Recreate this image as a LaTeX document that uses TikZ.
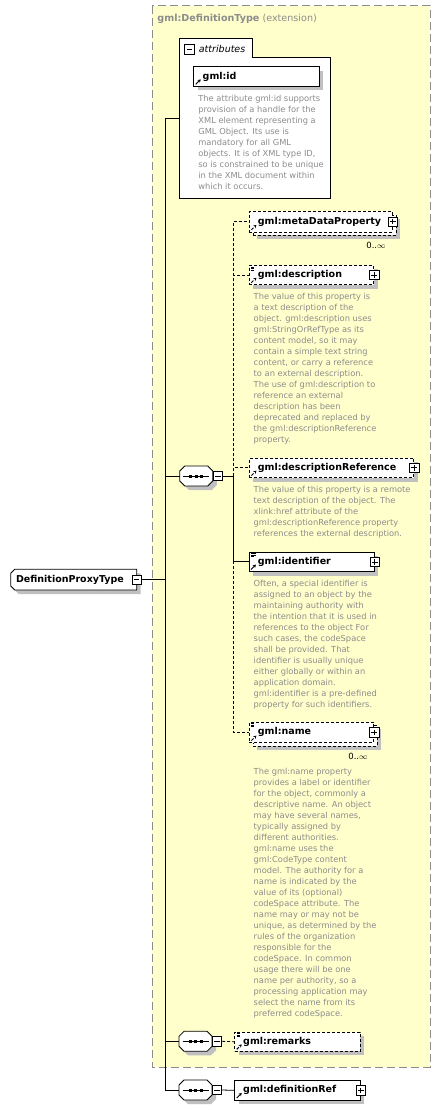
\documentclass[tikz,border=0pt]{standalone}
\usepackage{fontspec}
\setmainfont{DejaVu Sans}
\usetikzlibrary{arrows.meta,shadows}

\definecolor{extfill}{HTML}{FFFFCC}
\definecolor{extline}{HTML}{8C8C8C}
\definecolor{doctext}{HTML}{8C8C8C}
\definecolor{shadowgray}{HTML}{C0C0C0}

\tikzset{
  boxshadow/.style={drop shadow={shadow xshift=4pt, shadow yshift=-4pt, fill=shadowgray, opacity=1}},
  extframe/.style={draw=extline, fill=extfill, line width=1pt, dash pattern=on 8pt off 4pt},
  elem/.style={draw, fill=white, inner sep=0pt, anchor=north west, minimum height=19.5pt},
  opt/.style={dash pattern=on 3pt off 2pt},
  ref/.style={path picture={
      \draw[line width=0.9pt, -{Stealth[length=3pt,width=3.5pt]}] ([shift={(2pt,2pt)}]path picture bounding box.south west) -- ++(5pt,5pt);}},
  refdoc/.style={path picture={
      \draw[line width=0.9pt, -{Stealth[length=3pt,width=3.5pt]}] ([shift={(2pt,2pt)}]path picture bounding box.south west) -- ++(5pt,5pt);
      \draw[line width=0.6pt] ([shift={(2pt,-1.5pt)}]path picture bounding box.north west) -- ++(5pt,0pt)
        ([shift={(2pt,-3pt)}]path picture bounding box.north west) -- ++(5pt,0pt)
        ([shift={(2pt,-4.5pt)}]path picture bounding box.north west) -- ++(3.5pt,0pt);}},
  tag/.style={inner sep=0pt, anchor=west, font=\bfseries\fontsize{9.5}{11}\selectfont},
  doc/.style={inner sep=0pt, anchor=north west, align=left, text=doctext, font=\fontsize{8.3}{11}\selectfont},
  count/.style={inner sep=0pt, font=\fontsize{8.5}{10}\selectfont},
  pmbox/.style={draw, fill=white, minimum size=9.5pt, inner sep=0pt, line width=0.7pt},
  plus/.style={pmbox, path picture={
      \draw ([xshift=2pt]path picture bounding box.west) -- ([xshift=-2pt]path picture bounding box.east);
      \draw ([yshift=-2pt]path picture bounding box.north) -- ([yshift=2pt]path picture bounding box.south);}},
  minus/.style={pmbox, path picture={
      \draw ([xshift=2pt]path picture bounding box.west) -- ([xshift=-2pt]path picture bounding box.east);}},
  seqsym/.pic={
    \fill[shadowgray, shift={(4,4)}] (-11.5,-10) -- (11.5,-10) -- (16.5,-5) -- (16.5,5)
      -- (11.5,10) -- (-11.5,10) -- (-16.5,5) -- (-16.5,-5) -- cycle;
    \draw[fill=white] (-11.5,-10) -- (11.5,-10) -- (16.5,-5) -- (16.5,5)
      -- (11.5,10) -- (-11.5,10) -- (-16.5,5) -- (-16.5,-5) -- cycle;
    \draw (-13,0) -- (13,0);
    \fill (-7,-1.5) rectangle (-4,1.5);
    \fill (-1.5,-1.5) rectangle (1.5,1.5);
    \fill (4,-1.5) rectangle (7,1.5);
    \node[minus] (-m) at (21.5,0) {};
    \coordinate (-in) at (-16.5,0);
  }
}

\begin{document}
\begin{tikzpicture}[x=1pt, y=-1pt, line width=0.8pt]
  \useasboundingbox (0,0) rectangle (441,1110);

  % extension frame
  \draw[extframe] (152,6) rectangle (430,1067);
  \node[anchor=west, inner sep=0pt, text=extline, font=\fontsize{9.6}{11}\selectfont] (exttitle) at (157,19)
    {\textbf{gml:DefinitionType} (extension)};

  % attributes
  \draw[fill=white] (179.3,38.3) -- (252.3,38.3) -- (252.3,57.3) -- (330.7,57.3)
    -- (330.7,198.3) -- (179.3,198.3) -- cycle;
  \node[minus] (attrm) at (189.5,49.5) {};
  \node[anchor=west, inner sep=0pt, font=\itshape\fontsize{9.5}{11}\selectfont] (attrlbl) at (198.5,48.5) {attributes};
  \coordinate (attrin) at (179.3,118);
  \node[elem, boxshadow, ref, minimum width=125.4pt, minimum height=19.7pt] (gmlid) at (193.3,66.3) {};
  \node[tag] (gmlidlbl) at ([xshift=9pt]gmlid.west) {gml:id};
  \node[doc] (gmliddoc) at (198,95) {The attribute gml:id supports\\provision of a handle for the\\XML element representing a\\GML Object. Its use is\\mandatory for all GML\\objects. It is of XML type ID,\\so is constrained to be unique\\in the XML document within\\which it occurs.};

  % root
  \fill[shadowgray, shift={(4,4)}] (14.7,569.3) -- (136.7,569.3) -- (136.7,590) -- (14.7,590)
    -- (10.7,586) -- (10.7,573.3) -- cycle;
  \draw[fill=white] (14.7,569.3) -- (136.7,569.3) -- (136.7,590) -- (14.7,590)
    -- (10.7,586) -- (10.7,573.3) -- cycle;
  \node[tag] (root) at (15.7,579.7) {DefinitionProxyType};
  \node[minus] (rootm) at (136.7,579.7) {};

  % sequences
  \pic (s1) at (196.3,476) {seqsym};
  \pic (s2) at (195.5,1041.3) {seqsym};
  \pic (s3) at (195.5,1090) {seqsym};

  % gml:metaDataProperty
  \node[elem, opt, boxshadow, minimum width=143pt, minimum height=20.5pt] (metaback) at (252.5,214.5) {};
  \node[elem, opt, ref, minimum width=143pt, minimum height=20.5pt] (meta) at (249,211) {};
  \node[tag] (metalbl) at ([xshift=8.5pt]meta.west) {gml:metaDataProperty};
  \node[plus] (metaplus) at (meta.east) {};
  \node[count] (metacount) at (376,245) {0..\(\infty\)};

  % gml:description
  \node[elem, opt, boxshadow, refdoc, minimum width=124.3pt, minimum height=19.3pt] (desc) at (249,265) {};
  \node[tag] (desclbl) at ([xshift=8.5pt]desc.west) {gml:description};
  \node[plus] (descplus) at (desc.east) {};
  \node[doc] (descdoc) at (253.3,292.7) {The value of this property is\\a text description of the\\object. gml:description uses\\gml:StringOrRefType as its\\content model, so it may\\contain a simple text string\\content, or carry a reference\\to an external description.\\The use of gml:description to\\reference an external\\description has been\\deprecated and replaced by\\the gml:descriptionReference\\property.};

  % gml:descriptionReference
  \node[elem, opt, boxshadow, ref, minimum width=164.3pt, minimum height=19.7pt] (descref) at (249,457.5) {};
  \node[tag] (descreflbl) at ([xshift=8.5pt]descref.west) {gml:descriptionReference};
  \node[plus] (descrefplus) at (descref.east) {};
  \node[doc] (descrefdoc) at (253.3,486) {The value of this property is a remote\\text description of the object. The\\xlink:href attribute of the\\gml:descriptionReference property\\references the external description.};

  % gml:identifier
  \node[elem, boxshadow, refdoc, minimum width=125.5pt, minimum height=19.5pt] (ident) at (248.5,551.7) {};
  \node[tag] (identlbl) at ([xshift=9pt]ident.west) {gml:identifier};
  \node[plus] (identplus) at (ident.east) {};
  \node[doc] (identdoc) at (253.3,580) {Often, a special identifier is\\assigned to an object by the\\maintaining authority with\\the intention that it is used in\\references to the object For\\such cases, the codeSpace\\shall be provided. That\\identifier is usually unique\\either globally or within an\\application domain.\\gml:identifier is a pre-defined\\property for such identifiers.};

  % gml:name
  \node[elem, opt, boxshadow, minimum width=124.3pt, minimum height=20.5pt] (nameback) at (252.5,725) {};
  \node[elem, opt, refdoc, minimum width=124.3pt, minimum height=20.5pt] (name) at (249,721.7) {};
  \node[tag] (namelbl) at ([xshift=8.5pt]name.west) {gml:name};
  \node[plus] (nameplus) at (name.east) {};
  \node[count] (namecount) at (358,756) {0..\(\infty\)};
  \node[doc] (namedoc) at (253.3,767.7) {The gml:name property\\provides a label or identifier\\for the object, commonly a\\descriptive name.  An object\\may have several names,\\typically assigned by\\different authorities.\\gml:name uses the\\gml:CodeType content\\model.  The authority for a\\name is indicated by the\\value of its (optional)\\codeSpace attribute.  The\\name may or may not be\\unique, as determined by the\\rules of the organization\\responsible for the\\codeSpace.  In common\\usage there will be one\\name per authority, so a\\processing application may\\select the name from its\\preferred codeSpace.};

  % gml:remarks
  \node[elem, opt, boxshadow, refdoc, minimum width=125.7pt, minimum height=19.3pt] (remarks) at (234.3,1031.7) {};
  \node[tag] (remarkslbl) at ([xshift=8.5pt]remarks.west) {gml:remarks};

  % gml:definitionRef
  \node[elem, boxshadow, ref, minimum width=125.7pt, minimum height=19.3pt] (defref) at (234.3,1080.3) {};
  \node[tag] (defreflbl) at ([xshift=8.5pt]defref.west) {gml:definitionRef};
  \node[plus] (defrefplus) at (defref.east) {};

  % connectors
  \coordinate (trunk) at (165,118);
  \draw (attrin) -- (trunk) |- (s3-in);
  \draw (trunk) |- (s1-in);
  \draw (trunk) |- (s2-in);
  \draw (rootm.east) -- (rootm.east -| trunk);
  \coordinate (j1) at (233.3,476);
  \draw (s1-m.east) -- (j1);
  \draw[opt] (j1) |- (meta.west);
  \draw[opt] (j1) |- (desc.west);
  \draw[opt] (j1) |- (descref.west);
  \draw[opt] (j1) |- (name.west);
  \draw (j1) |- (ident.west);
  \draw[opt] (s2-m.east) -- (remarks.west);
  \draw (s3-m.east) -- (defref.west);
\end{tikzpicture}
\end{document}
